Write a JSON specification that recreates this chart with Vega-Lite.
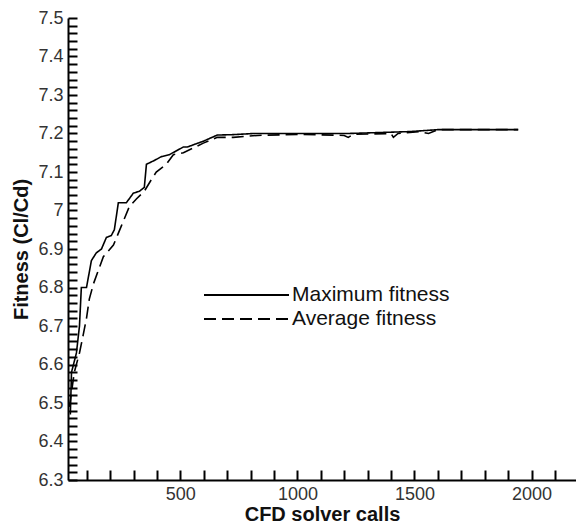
{
  "$schema": "https://vega.github.io/schema/vega-lite/v6.json",
  "width": 508,
  "height": 462,
  "autosize": {"type": "none"},
  "padding": {"left": 68, "top": 18, "right": 0, "bottom": 49},
  "background": "white",
  "config": {"view": {"stroke": null}},
  "data": {"values": [
    {"calls": 30, "fitness": 6.47, "series": "Maximum fitness"},
    {"calls": 35, "fitness": 6.58, "series": "Maximum fitness"},
    {"calls": 56, "fitness": 6.63, "series": "Maximum fitness"},
    {"calls": 69, "fitness": 6.70, "series": "Maximum fitness"},
    {"calls": 77, "fitness": 6.80, "series": "Maximum fitness"},
    {"calls": 99, "fitness": 6.80, "series": "Maximum fitness"},
    {"calls": 111, "fitness": 6.84, "series": "Maximum fitness"},
    {"calls": 120, "fitness": 6.87, "series": "Maximum fitness"},
    {"calls": 141, "fitness": 6.89, "series": "Maximum fitness"},
    {"calls": 163, "fitness": 6.90, "series": "Maximum fitness"},
    {"calls": 184, "fitness": 6.93, "series": "Maximum fitness"},
    {"calls": 205, "fitness": 6.935, "series": "Maximum fitness"},
    {"calls": 218, "fitness": 6.95, "series": "Maximum fitness"},
    {"calls": 235, "fitness": 7.02, "series": "Maximum fitness"},
    {"calls": 269, "fitness": 7.02, "series": "Maximum fitness"},
    {"calls": 299, "fitness": 7.045, "series": "Maximum fitness"},
    {"calls": 325, "fitness": 7.05, "series": "Maximum fitness"},
    {"calls": 346, "fitness": 7.06, "series": "Maximum fitness"},
    {"calls": 355, "fitness": 7.12, "series": "Maximum fitness"},
    {"calls": 389, "fitness": 7.13, "series": "Maximum fitness"},
    {"calls": 419, "fitness": 7.14, "series": "Maximum fitness"},
    {"calls": 453, "fitness": 7.145, "series": "Maximum fitness"},
    {"calls": 513, "fitness": 7.165, "series": "Maximum fitness"},
    {"calls": 530, "fitness": 7.165, "series": "Maximum fitness"},
    {"calls": 598, "fitness": 7.18, "series": "Maximum fitness"},
    {"calls": 658, "fitness": 7.196, "series": "Maximum fitness"},
    {"calls": 726, "fitness": 7.197, "series": "Maximum fitness"},
    {"calls": 812, "fitness": 7.2, "series": "Maximum fitness"},
    {"calls": 1012, "fitness": 7.2, "series": "Maximum fitness"},
    {"calls": 1217, "fitness": 7.2, "series": "Maximum fitness"},
    {"calls": 1482, "fitness": 7.205, "series": "Maximum fitness"},
    {"calls": 1600, "fitness": 7.21, "series": "Maximum fitness"},
    {"calls": 1943, "fitness": 7.21, "series": "Maximum fitness"},
    {"calls": 26, "fitness": 6.49, "series": "Average fitness"},
    {"calls": 47, "fitness": 6.58, "series": "Average fitness"},
    {"calls": 69, "fitness": 6.63, "series": "Average fitness"},
    {"calls": 86, "fitness": 6.68, "series": "Average fitness"},
    {"calls": 99, "fitness": 6.72, "series": "Average fitness"},
    {"calls": 111, "fitness": 6.77, "series": "Average fitness"},
    {"calls": 129, "fitness": 6.81, "series": "Average fitness"},
    {"calls": 150, "fitness": 6.845, "series": "Average fitness"},
    {"calls": 171, "fitness": 6.88, "series": "Average fitness"},
    {"calls": 214, "fitness": 6.91, "series": "Average fitness"},
    {"calls": 248, "fitness": 6.96, "series": "Average fitness"},
    {"calls": 282, "fitness": 7.01, "series": "Average fitness"},
    {"calls": 312, "fitness": 7.03, "series": "Average fitness"},
    {"calls": 346, "fitness": 7.05, "series": "Average fitness"},
    {"calls": 376, "fitness": 7.08, "series": "Average fitness"},
    {"calls": 397, "fitness": 7.10, "series": "Average fitness"},
    {"calls": 440, "fitness": 7.12, "series": "Average fitness"},
    {"calls": 470, "fitness": 7.145, "series": "Average fitness"},
    {"calls": 513, "fitness": 7.15, "series": "Average fitness"},
    {"calls": 598, "fitness": 7.175, "series": "Average fitness"},
    {"calls": 658, "fitness": 7.19, "series": "Average fitness"},
    {"calls": 726, "fitness": 7.19, "series": "Average fitness"},
    {"calls": 830, "fitness": 7.195, "series": "Average fitness"},
    {"calls": 1012, "fitness": 7.198, "series": "Average fitness"},
    {"calls": 1200, "fitness": 7.195, "series": "Average fitness"},
    {"calls": 1217, "fitness": 7.19, "series": "Average fitness"},
    {"calls": 1240, "fitness": 7.198, "series": "Average fitness"},
    {"calls": 1400, "fitness": 7.2, "series": "Average fitness"},
    {"calls": 1410, "fitness": 7.19, "series": "Average fitness"},
    {"calls": 1430, "fitness": 7.2, "series": "Average fitness"},
    {"calls": 1520, "fitness": 7.205, "series": "Average fitness"},
    {"calls": 1560, "fitness": 7.2, "series": "Average fitness"},
    {"calls": 1600, "fitness": 7.21, "series": "Average fitness"},
    {"calls": 1943, "fitness": 7.21, "series": "Average fitness"}
  ]},
  "mark": {"type": "line", "color": "black", "strokeWidth": 1.6, "clip": true},
  "encoding": {
    "x": {
      "field": "calls", "type": "quantitative",
      "scale": {"domain": [20, 2190], "nice": false, "zero": false},
      "axis": {
        "values": [100,200,300,400,500,600,700,800,900,1000,1100,1200,1300,1400,1500,1600,1700,1800,1900,2000,2100],
        "labelExpr": "datum.value % 500 == 0 ? format(datum.value, 'd') : ''",
        "title": "CFD solver calls",
        "titleFont": "Liberation Sans", "titleFontSize": 20, "titleFontWeight": "bold", "titleColor": "#111",
        "titlePadding": 1,
        "labelFont": "Liberation Sans", "labelFontSize": 18, "labelColor": "#333",
        "labelPadding": 15,
        "labelFlush": false, "labelOverlap": false,
        "grid": false, "domainColor": "black", "domainWidth": 2,
        "ticks": true,
        "tickColor": "black", "tickWidth": 2,
        "tickSize": -10
      }
    },
    "y": {
      "field": "fitness", "type": "quantitative",
      "scale": {"domain": [6.3, 7.5], "nice": false, "zero": false},
      "axis": {
        "values": [6.3,6.32,6.34,6.36,6.38,6.4,6.42,6.44,6.46,6.48,6.5,6.52,6.54,6.56,6.58,6.6,6.62,6.64,6.66,6.68,6.7,6.72,6.74,6.76,6.78,6.8,6.82,6.84,6.86,6.88,6.9,6.92,6.94,6.96,6.98,7.0,7.02,7.04,7.06,7.08,7.1,7.12,7.14,7.16,7.18,7.2,7.22,7.24,7.26,7.28,7.3,7.32,7.34,7.36,7.38,7.4,7.42,7.44,7.46,7.48,7.5],
        "labelExpr": "abs(datum.value*10 - round(datum.value*10)) < 0.001 ? format(datum.value, '~g') : ''",
        "title": "Fitness (Cl/Cd)",
        "titleFont": "Liberation Sans", "titleFontSize": 20, "titleFontWeight": "bold", "titleColor": "#111",
        "titlePadding": 6,
        "labelFont": "Liberation Sans", "labelFontSize": 18, "labelColor": "#333",
        "labelPadding": 14,
        "labelFlush": false, "labelOverlap": false,
        "grid": false, "domainColor": "black", "domainWidth": 2,
        "ticks": true,
        "tickColor": "black", "tickWidth": 2,
        "tickSize": -9
      }
    },
    "strokeDash": {
      "field": "series", "type": "nominal",
      "scale": {"domain": ["Maximum fitness", "Average fitness"], "range": [[1, 0], [12, 6]]},
      "legend": {
        "title": null, "orient": "none", "legendX": 135, "legendY": 265,
        "symbolType": "stroke", "symbolSize": 7225, "symbolStrokeColor": "black", "symbolStrokeWidth": 1.8,
        "labelFont": "Liberation Sans", "labelFontSize": 21, "labelColor": "#111",
        "labelOffset": 2, "rowPadding": 0, "clipHeight": 24
      }
    }
  }
}
